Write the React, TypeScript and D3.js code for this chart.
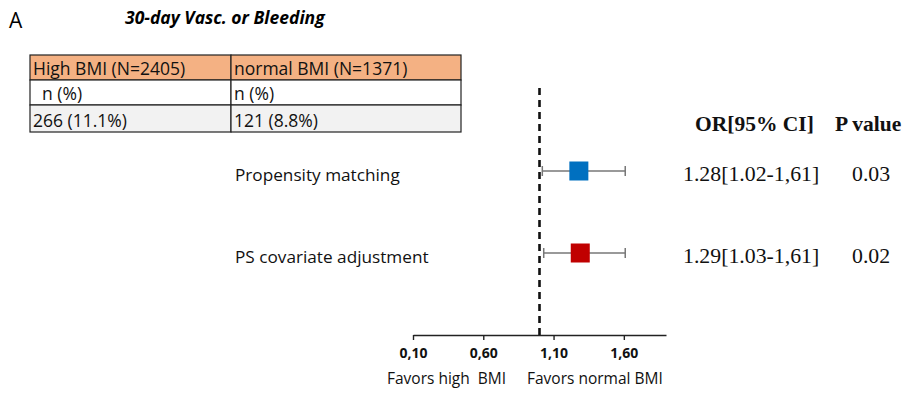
import { useEffect, useRef } from 'react';
import * as d3 from 'd3';

const methods = ['Propensity matching', 'PS covariate adjustment'];
const oddsRatios = [1.28, 1.29];
const ciLow = [1.02, 1.03];
const ciHigh = [1.61, 1.61];
const orLabels = ['1.28[1.02-1,61]', '1.29[1.03-1,61]'];
const pValues = ['0.03', '0.02'];
const boxColors = ['#0070C0', '#C00000'];
const axisTicks = [0.1, 0.6, 1.1, 1.6];

const tableHeader = ['High BMI (N=2405)', 'normal BMI (N=1371)'];
const tableRows = [
  ['  n (%)', 'n (%)'],
  ['266 (11.1%)', '121 (8.8%)'],
];

const sans = "'Open Sans', 'Noto Sans', sans-serif";
const serif = "'Liberation Serif', 'DejaVu Serif', serif";

const render = (el: SVGSVGElement) => {
  const svg = d3.select(el);
  svg.selectAll('*').remove();

  // panel letter + title
  svg.append('text').attr('x', 9).attr('y', 28).attr('font-family', sans)
    .attr('font-size', 21).text('A');
  svg.append('text').attr('x', 125).attr('y', 24).attr('font-family', sans)
    .attr('font-size', 17.5).attr('font-weight', 'bold').attr('font-style', 'italic')
    .text('30-day Vasc. or Bleeding');

  // table
  const colX = [30, 231, 461];
  const rowY = [55, 80, 105, 132];
  const fills = ['#F4B183', '#FFFFFF', '#F2F2F2'];
  const rows = [tableHeader, ...tableRows];
  const tbl = svg.append('g');
  rows.forEach((r, i) => {
    r.forEach((cell, j) => {
      tbl.append('rect').attr('x', colX[j]).attr('y', rowY[i])
        .attr('width', colX[j + 1] - colX[j]).attr('height', rowY[i + 1] - rowY[i])
        .attr('fill', fills[i]).attr('stroke', '#222').attr('stroke-width', 1.2);
      tbl.append('text').attr('x', colX[j] + 3).attr('y', rowY[i + 1] - 5.5)
        .attr('font-family', sans).attr('font-size', 17.5).attr('fill', '#111')
        .attr('xml:space', 'preserve').style('white-space', 'pre')
        .text(cell);
    });
  });

  // scales
  const x = d3.scaleLinear().domain([0.1, 1.9]).range([413, 666]);
  const y = d3.scalePoint<string>().domain(methods).range([171, 253]);

  // reference line at OR = 1
  svg.append('line').attr('x1', x(1)).attr('x2', x(1)).attr('y1', 88).attr('y2', 336)
    .attr('stroke', '#111').attr('stroke-width', 2.6).attr('stroke-dasharray', '7,5');

  // axis
  const axis = d3.axisBottom(x).tickValues(axisTicks).tickSize(5).tickSizeOuter(0)
    .tickFormat((d) => d3.format('.2f')(d as number).replace('.', ','));
  const ax = svg.append('g').attr('transform', 'translate(0,335)').call(axis);
  ax.select('.domain').attr('stroke', '#222').attr('stroke-width', 1.4);
  ax.selectAll('.tick line').attr('stroke', '#222').attr('stroke-width', 1.4);
  ax.selectAll('.tick text').attr('font-family', sans).attr('font-size', 14)
    .attr('font-weight', 'bold').attr('fill', '#111').attr('dy', '1.05em');

  svg.append('text').attr('x', 387).attr('y', 384).attr('font-family', sans)
    .attr('font-size', 15.5).attr('fill', '#111').attr('xml:space', 'preserve')
    .style('white-space', 'pre').text('Favors high  BMI');
  svg.append('text').attr('x', 527).attr('y', 384).attr('font-family', sans)
    .attr('font-size', 15.5).attr('fill', '#111').text('Favors normal BMI');

  // rows
  methods.forEach((m, i) => {
    const cy = y(m) as number;
    svg.append('text').attr('x', 235).attr('y', cy + 9.5).attr('font-family', sans)
      .attr('font-size', 17.2).attr('fill', '#111').text(m);
    const g = svg.append('g');
    g.append('line').attr('x1', x(ciLow[i])).attr('x2', x(ciHigh[i])).attr('y1', cy).attr('y2', cy)
      .attr('stroke', '#777').attr('stroke-width', 1.5);
    [ciLow[i], ciHigh[i]].forEach((v) => {
      g.append('line').attr('x1', x(v)).attr('x2', x(v)).attr('y1', cy - 5).attr('y2', cy + 5)
        .attr('stroke', '#777').attr('stroke-width', 1.5);
    });
    g.append('rect').attr('x', x(oddsRatios[i]) - 9.5).attr('y', cy - 9.5)
      .attr('width', 19).attr('height', 19).attr('fill', boxColors[i]);
    svg.append('text').attr('x', 683).attr('y', cy + 10).attr('font-family', serif)
      .attr('font-size', 21.8).attr('fill', '#111').text(orLabels[i]);
    svg.append('text').attr('x', 852).attr('y', cy + 10).attr('font-family', serif)
      .attr('font-size', 21.8).attr('fill', '#111').text(pValues[i]);
  });

  svg.append('text').attr('x', 695).attr('y', 131).attr('font-family', serif)
    .attr('font-size', 21.5).attr('font-weight', 'bold').attr('fill', '#111').text('OR[95% CI]');
  svg.append('text').attr('x', 835).attr('y', 131).attr('font-family', serif)
    .attr('font-size', 21.5).attr('font-weight', 'bold').attr('fill', '#111').text('P value');
};

export default function App() {
  const ref = useRef<SVGSVGElement>(null);
  useEffect(() => {
    if (ref.current) render(ref.current);
  }, []);
  return (
    <svg ref={ref} width={904} height={393}
      style={{ position: 'fixed', left: 0, top: 0, background: '#fff' }} />
  );
}
